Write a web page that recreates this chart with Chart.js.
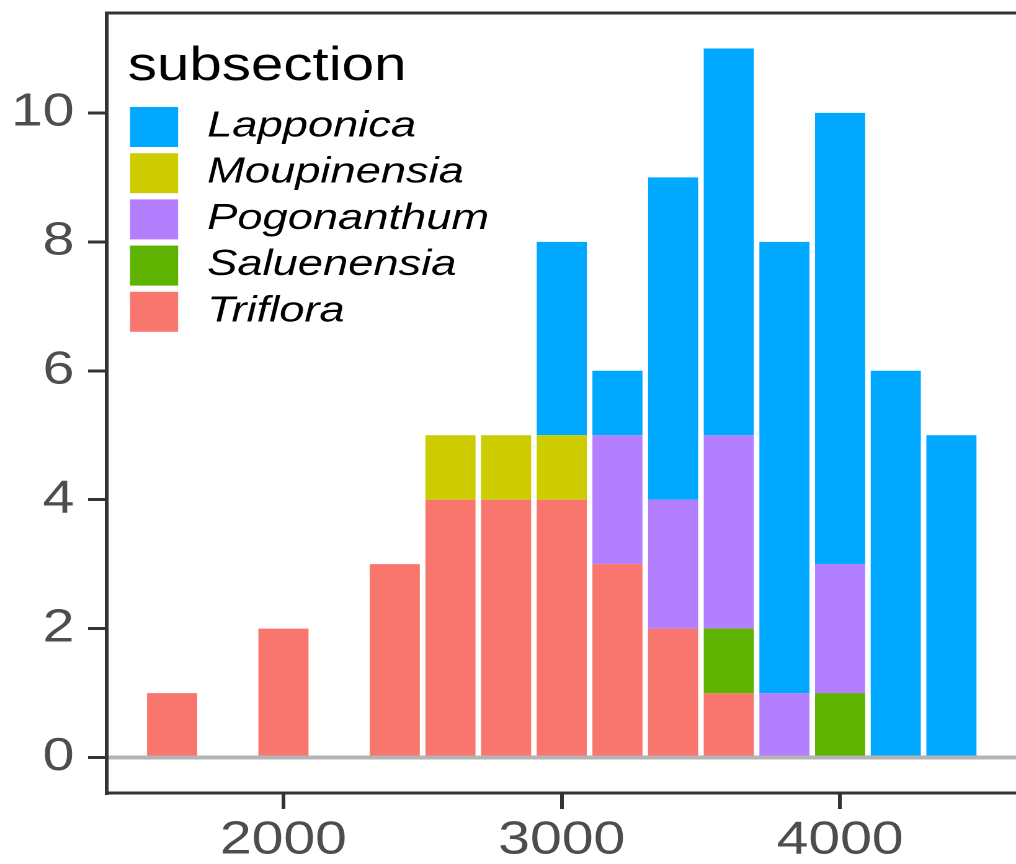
<!DOCTYPE html>
<html>
<head>
<meta charset="utf-8">
<script src="https://cdn.jsdelivr.net/npm/chart.js@4.4.0/dist/chart.umd.min.js"></script>
<style>
  html, body { margin: 0; padding: 0; background: #fff; overflow: hidden; }
</style>
</head>
<body>
<!-- the reference is stretched sideways, so the canvas is drawn narrower and widened by its inline style -->
<canvas id="chart" width="819" height="864" style="display:block;width:1016px;height:864px"></canvas>
<script>
// bin centres (elevation, width 200)
const bins = [1600, 1800, 2000, 2200, 2400, 2600, 2800, 3000, 3200, 3400, 3600, 3800, 4000, 4200, 4400];

// counts per subsection, bottom of the stack first
const triflora    = [1, 0, 2, 0, 3, 4, 4, 4, 3, 2, 1, 0, 0, 0, 0];
const saluenensia = [0, 0, 0, 0, 0, 0, 0, 0, 0, 0, 1, 0, 1, 0, 0];
const pogonanthum = [0, 0, 0, 0, 0, 0, 0, 0, 2, 2, 3, 1, 2, 0, 0];
const moupinensia = [0, 0, 0, 0, 0, 1, 1, 1, 0, 0, 0, 0, 0, 0, 0];
const lapponica   = [0, 0, 0, 0, 0, 0, 0, 3, 1, 5, 6, 7, 7, 6, 5];

const legendTitle = 'subsection';
const legendNames = ['Lapponica', 'Moupinensia', 'Pogonanthum', 'Saluenensia', 'Triflora'];

const xTicks = [2000, 3000, 4000];
const yTicks = [0, 2, 4, 6, 8, 10];

const colors = {
    Lapponica: '#00A9FF',
    Moupinensia: '#CDCC00',
    Pogonanthum: '#B47FFF',
    Saluenensia: '#5EB300',
    Triflora: '#F8766D'
};

const FONT = '"Liberation Sans", Arial, Helvetica, sans-serif';
const PANEL = '#333333';

const series = [
    ['Triflora', triflora],
    ['Saluenensia', saluenensia],
    ['Pogonanthum', pogonanthum],
    ['Moupinensia', moupinensia],
    ['Lapponica', lapponica]
];

const keyLegend = {
    id: 'keyLegend',
    afterDraw(chart) {
        const ctx = chart.ctx;
        ctx.save();
        ctx.textAlign = 'left';
        ctx.textBaseline = 'alphabetic';
        ctx.fillStyle = '#000';
        ctx.font = '47px ' + FONT;
        ctx.fillText(legendTitle, 103, 80);

        ctx.font = 'italic 36.5px ' + FONT;
        legendNames.forEach((name, i) => {
            const top = 107 + i * 46.2;
            ctx.fillStyle = colors[name];
            ctx.fillRect(104.8, top, 38.8, 40);
            ctx.fillStyle = '#000';
            ctx.fillText(name, 167, top + 29.5);
        });
        ctx.restore();
    }
};

new Chart(document.getElementById('chart'), {
    type: 'bar',
    data: {
        labels: bins,
        datasets: series.map(([name, data]) => ({
            label: name,
            data,
            xAxisID: 'x',
            backgroundColor: colors[name],
            borderWidth: 0,
            barPercentage: 0.9,
            categoryPercentage: 1
        }))
    },
    options: {
        responsive: false,
        devicePixelRatio: 2,
        animation: false,
        layout: { padding: { top: 13, left: 0, right: 0, bottom: 0 } },
        plugins: {
            legend: { display: false },
            tooltip: { enabled: false }
        },
        scales: {
            x: {
                type: 'linear',
                position: 'bottom',
                stacked: true,
                offset: false,
                min: 1365,
                max: 4632,
                afterBuildTicks(scale) {
                    scale.ticks = xTicks.map(v => ({ value: v }));
                },
                afterFit(scale) {
                    scale.height = 71;
                    scale.paddingLeft = 0;
                    scale.paddingRight = 0;
                },
                border: { display: true, color: PANEL, width: 3 },
                grid: {
                    offset: false,
                    drawOnChartArea: false,
                    tickColor: PANEL,
                    tickWidth: 3,
                    tickLength: 16
                },
                ticks: {
                    color: '#4D4D4D',
                    font: { family: FONT, size: 46 },
                    padding: 4,
                    maxRotation: 0,
                    callback: v => String(v)
                }
            },
            // empty axis on top, only used for the upper edge of the panel
            xTop: {
                type: 'linear',
                position: 'top',
                min: 1365,
                max: 4632,
                afterFit(scale) {
                    scale.height = 0;
                    scale.paddingLeft = 0;
                    scale.paddingRight = 0;
                },
                border: { display: true, color: PANEL, width: 3 },
                grid: { display: false },
                ticks: { display: false }
            },
            y: {
                stacked: true,
                min: -0.55,
                max: 11.55,
                afterBuildTicks(scale) {
                    scale.ticks = yTicks.map(v => ({ value: v }));
                },
                afterFit(scale) {
                    scale.width = 86;
                    scale.paddingTop = 0;
                    scale.paddingBottom = 0;
                },
                border: { display: true, color: PANEL, width: 3 },
                grid: {
                    color: c => (c.tick && c.tick.value === 0 ? '#B4B4B4' : 'rgba(0,0,0,0)'),
                    lineWidth: 4,
                    tickColor: PANEL,
                    tickWidth: 3,
                    tickLength: 15
                },
                ticks: {
                    color: '#4D4D4D',
                    font: { family: FONT, size: 46 },
                    padding: 11,
                    callback: v => String(v)
                }
            }
        }
    },
    plugins: [keyLegend]
});
</script>
</body>
</html>
